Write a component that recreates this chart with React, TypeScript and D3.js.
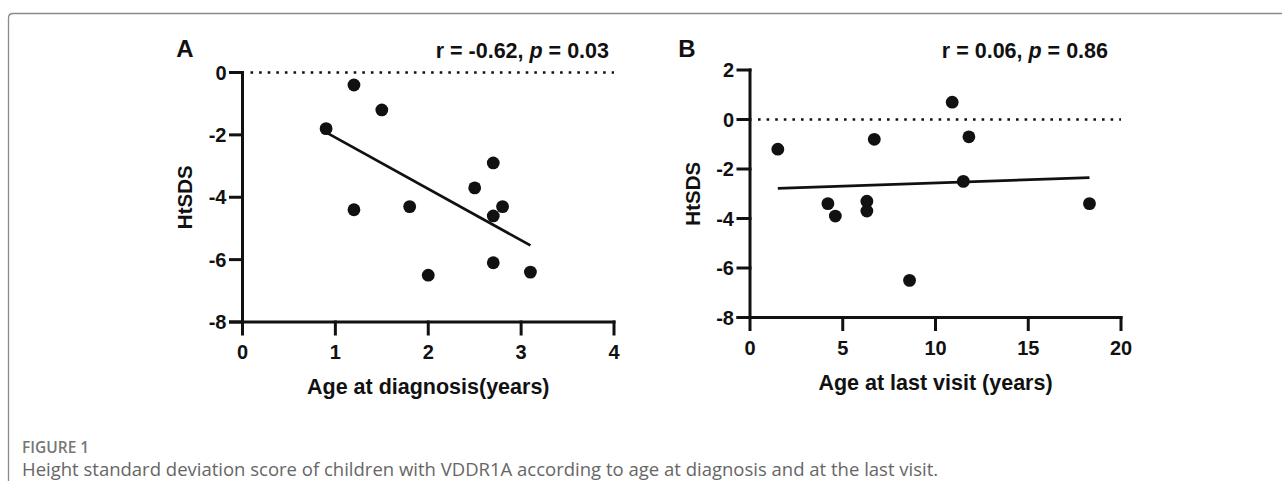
import React from 'react'
import * as d3 from 'd3'

// Panel A: age at diagnosis (years) vs HtSDS
const diagAge = [0.9, 1.2, 1.5, 1.2, 1.8, 2.0, 2.5, 2.7, 2.7, 2.7, 2.8, 3.1]
const diagSds = [-1.8, -0.4, -1.2, -4.4, -4.3, -6.5, -3.7, -2.9, -4.6, -6.1, -4.3, -6.4]

// Panel B: age at last visit (years) vs HtSDS
const visitAge = [1.5, 4.2, 4.6, 6.3, 6.3, 6.7, 8.6, 10.9, 11.8, 11.5, 18.3]
const visitSds = [-1.2, -3.4, -3.9, -3.3, -3.7, -0.8, -6.5, 0.7, -0.7, -2.5, -3.4]

const ticksAx = [0, 1, 2, 3, 4]
const ticksAy = [0, -2, -4, -6, -8]
const ticksBx = [0, 5, 10, 15, 20]
const ticksBy = [2, 0, -2, -4, -6, -8]

const FONT = "'Liberation Sans', Arial, Helvetica, sans-serif"
const INK = '#111'

// least squares line through the points
function fit(xs: number[], ys: number[]) {
  const mx = d3.mean(xs)!
  const my = d3.mean(ys)!
  let sxy = 0, sxx = 0
  xs.forEach((x, i) => { sxy += (x - mx) * (ys[i] - my); sxx += (x - mx) ** 2 })
  const b = sxy / sxx
  return (x: number) => my + b * (x - mx)
}

type PanelProps = {
  letter: string
  letterX: number
  stat: [string, string]
  statRight: number
  xs: number[]
  ys: number[]
  xTicks: number[]
  yTicks: number[]
  xRange: [number, number]
  yRange: [number, number]
  xTitle: string
  yTitleX: number
}

function Panel(p: PanelProps) {
  const x = d3.scaleLinear().domain([p.xTicks[0], p.xTicks[p.xTicks.length - 1]]).range(p.xRange)
  const y = d3.scaleLinear().domain([d3.min(p.yTicks)!, d3.max(p.yTicks)!]).range(p.yRange)
  const line = fit(p.xs, p.ys)
  const [x0, x1] = d3.extent(p.xs) as [number, number]
  const left = p.xRange[0]
  const bottom = p.yRange[0]
  const top = p.yRange[1]
  const right = p.xRange[1]
  const tick = 12
  return (
    <g fontFamily={FONT} fill={INK}>
      <text x={p.letterX} y={57} fontSize={24} fontWeight="bold" textAnchor="middle">{p.letter}</text>
      <text x={p.statRight} y={58} fontSize={21.5} fontWeight="bold" textAnchor="end">
        {p.stat[0]}<tspan fontStyle="italic">p</tspan>{p.stat[1]}
      </text>

      {/* reference line at 0 */}
      <line x1={left + 8} x2={right} y1={y(0)} y2={y(0)} stroke={INK}
        strokeWidth={2.6} strokeDasharray="2.6 6" />

      {/* axes */}
      <g stroke={INK} strokeWidth={3} strokeLinecap="square" fill="none">
        <line x1={left} x2={left} y1={top} y2={bottom + tick} />
        <line x1={left - tick} x2={right} y1={bottom} y2={bottom} />
        <line x1={right} x2={right} y1={bottom} y2={bottom + tick} />
        {p.xTicks.slice(1, -1).map(t => (
          <line key={t} x1={x(t)} x2={x(t)} y1={bottom} y2={bottom + tick} />
        ))}
        {p.yTicks.map(t => (
          <line key={t} x1={left - tick} x2={left} y1={y(t)} y2={y(t)} />
        ))}
      </g>

      {p.xTicks.map(t => (
        <text key={t} x={x(t)} y={bottom + 37} fontSize={20} fontWeight="bold" textAnchor="middle">{t}</text>
      ))}
      {p.yTicks.map(t => (
        <text key={t} x={left - 16} y={y(t) + 7} fontSize={20} fontWeight="bold" textAnchor="end">{t}</text>
      ))}

      <text x={(left + right) / 2} y={bottom + 72} fontSize={21.5} fontWeight="bold" textAnchor="middle">{p.xTitle}</text>
      <text transform={`translate(${p.yTitleX},${(top + bottom) / 2}) rotate(-90)`} fontSize={20.5}
        fontWeight="bold" textAnchor="middle" dy="0.35em">HtSDS</text>

      {/* regression line */}
      <line x1={x(x0)} y1={y(line(x0))} x2={x(x1)} y2={y(line(x1))} stroke={INK} strokeWidth={2.7} />

      {p.xs.map((v, i) => (
        <circle key={i} cx={x(v)} cy={y(p.ys[i])} r={6.4} fill={INK} />
      ))}
    </g>
  )
}

export default function App() {
  return (
    <svg width={1282} height={481} style={{ position: 'absolute', left: 0, top: 0, background: '#fff' }}>
      <rect width={1282} height={481} fill="#fff" />
      <path d="M8.5,481 V18 Q8.5,13.5 13,13.5 H1282" fill="none" stroke="#8a8a8a" strokeWidth={1.3} />

      <Panel letter="A" letterX={185} stat={['r = -0.62, ', ' = 0.03']} statRight={609}
        xs={diagAge} ys={diagSds} xTicks={ticksAx} yTicks={ticksAy}
        xRange={[242.5, 614]} yRange={[322, 72.5]} xTitle="Age at diagnosis(years)" yTitleX={185} />
      <Panel letter="B" letterX={687} stat={['r = 0.06, ', ' = 0.86']} statRight={1108}
        xs={visitAge} ys={visitSds} xTicks={ticksBx} yTicks={ticksBy}
        xRange={[750, 1121]} yRange={[317.5, 70]} xTitle="Age at last visit (years)" yTitleX={693} />

      <text x={22} y={453} fontFamily="'Open Sans', sans-serif" fontSize={15.5} fontWeight={600} fill="#777">FIGURE 1</text>
      <text x={22} y={476} fontFamily="'Open Sans', sans-serif" fontSize={18.5} fill="#666">
        Height standard deviation score of children with VDDR1A according to age at diagnosis and at the last visit.
      </text>
    </svg>
  )
}
